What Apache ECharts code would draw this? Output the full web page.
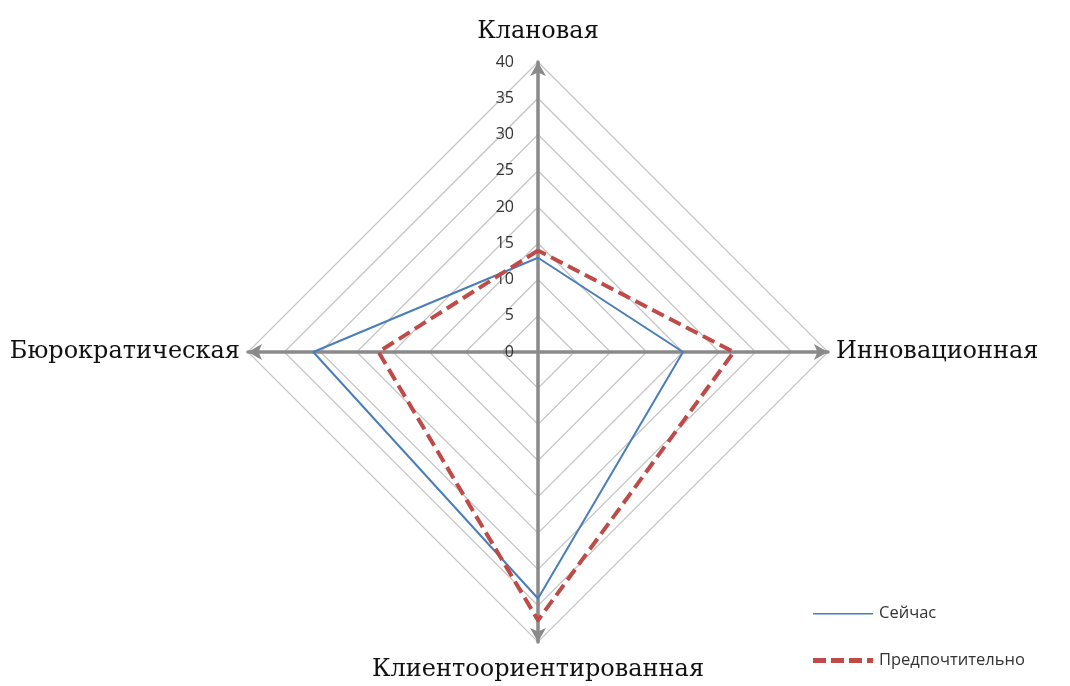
<!DOCTYPE html>
<html>
<head>
<meta charset="utf-8">
<script src="https://cdn.jsdelivr.net/npm/echarts@6/dist/echarts.min.js"></script>
<style>
  html, body { margin: 0; padding: 0; background: #fff; }
  #chart { width: 1070px; height: 686px; }
</style>
</head>
<body>
<div id="chart"></div>
<script>
// Culture-type profile: current vs. preferred
const axes = ['Клановая', 'Бюрократическая', 'Клиентоориентированная', 'Инновационная'];
const axisMax = 40;
const seriesNames = ['Сейчас', 'Предпочтительно'];
const currentValues = [13, 31, 34, 20];
const preferredValues = [14, 22, 37, 27];

const chart = echarts.init(document.getElementById('chart'));

const serif = '"DejaVu Serif", "Liberation Serif", serif';
const sans = '"Open Sans", "Noto Sans", sans-serif';

// vertical axes get their names a little further out than the horizontal ones
const nameGaps = [18, 8, 16, 8];

const option = {
  backgroundColor: '#fff',
  animation: false,
  legend: {
    orient: 'vertical',
    left: 808,
    top: 600,
    itemGap: 30,
    itemWidth: 62,
    itemHeight: 5,
    textStyle: { fontFamily: sans, fontSize: 16.5, color: '#333' },
    data: [
      { name: seriesNames[0], icon: 'path://M0,0h0.01v0.01h-0.01z M0,2h60v1.6h-60z M0,5h0.01v0.01h-0.01z' },
      { name: seriesNames[1], icon: 'path://M0,0h13v5h-13z M18,0h13v5h-13z M36,0h13v5h-13z M54,0h6v5h-6z' }
    ]
  },
  radar: {
    center: [538, 352],
    radius: 290,
    startAngle: 90,
    shape: 'polygon',
    splitNumber: 8,
    nameGap: 8,
    axisName: { color: '#111', fontFamily: serif, fontSize: 24 },
    indicator: axes.map((name, i) => ({
      name: name,
      min: 0,
      max: axisMax,
      nameGap: nameGaps[i],
      axisLabel: i === 0 ? {
        show: true, color: '#333', fontFamily: sans, fontSize: 16, margin: 24
      } : { show: false }
    })),
    axisLine: {
      symbol: ['none', 'arrow'],
      symbolSize: [12, 14],
      lineStyle: { color: '#8a8a8a', width: 3.5 }
    },
    axisTick: { show: false },
    splitLine: { lineStyle: { color: '#c4c4c4', width: 1.2 } },
    splitArea: { show: false }
  },
  series: [{
    type: 'radar',
    symbol: 'none',
    data: [
      {
        name: seriesNames[0],
        value: currentValues,
        itemStyle: { color: '#4A7EBB' },
        lineStyle: { color: '#4A7EBB', width: 2 }
      },
      {
        name: seriesNames[1],
        value: preferredValues,
        itemStyle: { color: '#BE4B48' },
        lineStyle: { color: '#BE4B48', width: 4, type: [13, 6] }
      }
    ]
  }]
};

chart.setOption(option);
</script>
</body>
</html>
